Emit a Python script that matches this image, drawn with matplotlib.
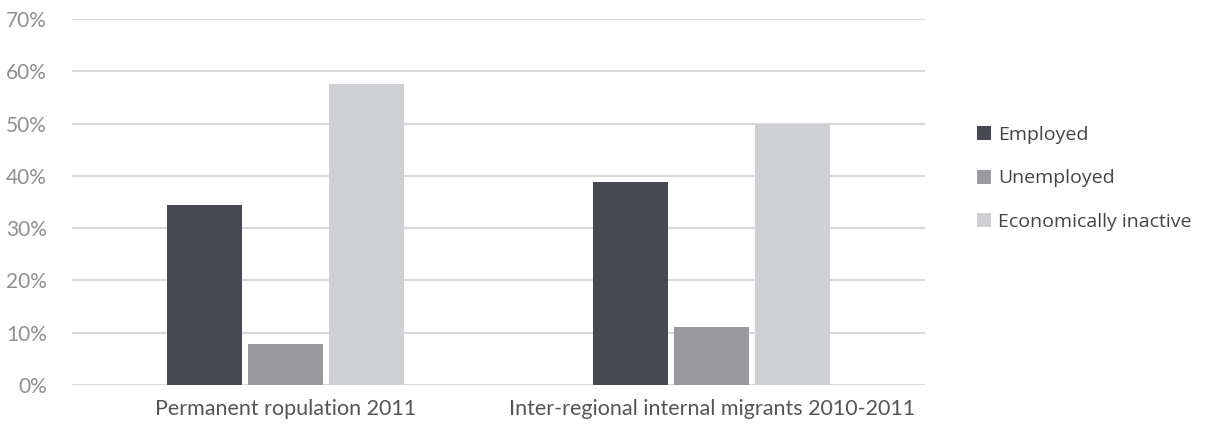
import matplotlib.pyplot as plt
import numpy as np

# Data
groups = ['Permanent ropulation 2011', 'Inter-regional internal migrants 2010-2011']
series = ['Employed', 'Unemployed', 'Economically inactive']
employed = [34.4, 38.8]
unemployed = [7.8, 11.1]
inactive = [57.5, 49.9]
colors = ['#474950', '#9a9a9e', '#cfd0d4']

fig = plt.figure(figsize=(12.05, 4.25), dpi=100)
ax = fig.add_axes([72 / 1205, 1 - 385 / 425, 853 / 1205, 366 / 425])

x = np.arange(len(groups))
w = 0.176
step = 0.19
for i, (vals, name) in enumerate(zip([employed, unemployed, inactive], series)):
    ax.bar(x + (i - 1) * step, vals, width=w, color=colors[i], label=name, zorder=3)

ax.set_xlim(-0.5, 1.5)
ax.set_ylim(0, 70)
ax.set_yticks(range(0, 71, 10))
ax.set_yticklabels([f'{v}%' for v in range(0, 71, 10)],
                   family='Lato', fontsize=15, color='#8f8f8f')
ax.set_xticks(x)
ax.set_xticklabels(groups, family='Lato', fontsize=15.5, color='#555555')
ax.grid(axis='y', color='#d9d9d9', linewidth=1.5, zorder=0)
for s in ax.spines.values():
    s.set_visible(False)
ax.tick_params(length=0)
ax.tick_params(axis='y', pad=18)
ax.tick_params(axis='x', pad=10)

leg = ax.legend(loc='upper left', bbox_to_anchor=(1.04, 0.755), frameon=False,
                prop={'family': 'Open Sans', 'size': 14}, handlelength=0.72,
                handleheight=0.72, handletextpad=0.4, labelspacing=1.3)
for t in leg.get_texts():
    t.set_color('#444444')

fig.savefig('out.png')
